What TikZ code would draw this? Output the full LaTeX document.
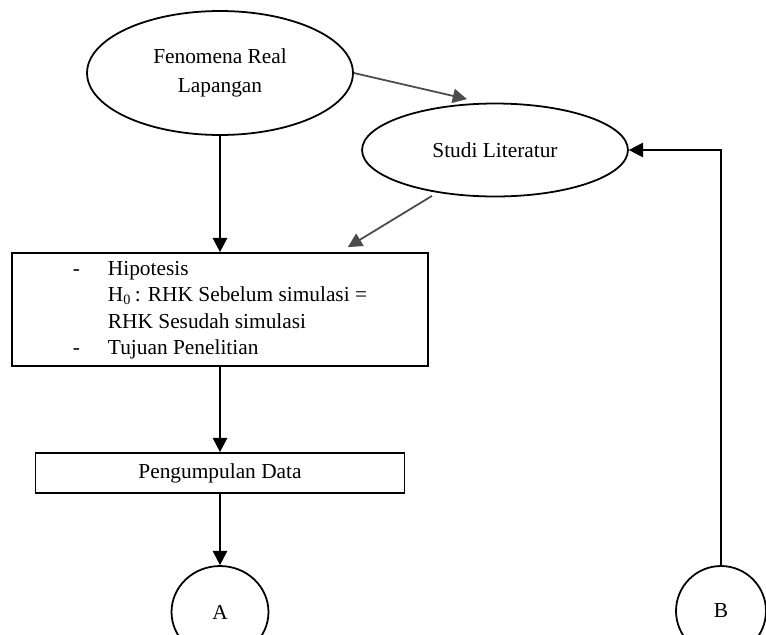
\documentclass[tikz,border=0pt]{standalone}
\usepackage{fontspec}
\setmainfont{Liberation Serif}
\usetikzlibrary{arrows.meta,calc,shapes.geometric}

\begin{document}
\begin{tikzpicture}[x=0.01975cm,y=-0.01975cm,
  font=\fontsize{12}{13.8}\selectfont,
  oval/.style={ellipse,draw,line width=1pt,inner sep=0pt,align=center},
  kasten/.style={rectangle,draw,line width=1pt,inner sep=0pt},
  pfeil/.style={-{Triangle[length=8pt,width=8pt]},line width=1.3pt},
  grau/.style={-{Triangle[length=8pt,width=8pt]},line width=1pt,black!70}]

% Pixel in pt
\def\px{0.5616pt}

\useasboundingbox (0,0) rectangle (766,635);
\clip (0,0) rectangle (766,635);

% ------------------- Knoten -------------------
\node[oval,minimum width=266*\px,minimum height=124*\px] (fen) at (220,73)
  {Fenomena Real\\[2.2pt]Lapangan};
\node[oval,minimum width=266*\px,minimum height=93*\px] (stu) at (495,150)
  {Studi Literatur};

\node[kasten,minimum width=416*\px,minimum height=113*\px] (hip) at (220,309.5)
  {\renewcommand{\arraystretch}{1.08}%
   \begin{tabular}{@{}p{19.7pt}@{}l@{}}
   - & Hipotesis\\
     & H\textsubscript{0}\,: RHK Sebelum simulasi =\\
     & RHK Sesudah simulasi\\
   - & Tujuan Penelitian
   \end{tabular}};

\node[kasten,minimum width=369*\px,minimum height=40*\px] (peng) at (220,473)
  {Pengumpulan Data};

\node[oval,minimum width=97*\px,minimum height=92*\px] (a) at (220,612) {A};
\node[oval,minimum width=90*\px,minimum height=90*\px] (b) at (721,611) {B};

% ------------------- Pfeile -------------------
\draw[pfeil] (fen.south) -- (hip.north);
\draw[pfeil] (hip.south) -- (peng.north);
\draw[pfeil] (peng.south) -- (a.north);
\draw[pfeil] (b.north) |- (stu.east);

\draw[grau] (fen.east) -- ($(stu.north)+(-28,-3.5)$);
\draw[grau] ($(stu.south)+(-63,-1.5)$) -- ($(hip.north east)+(-81,-5)$);

\end{tikzpicture}
\end{document}
